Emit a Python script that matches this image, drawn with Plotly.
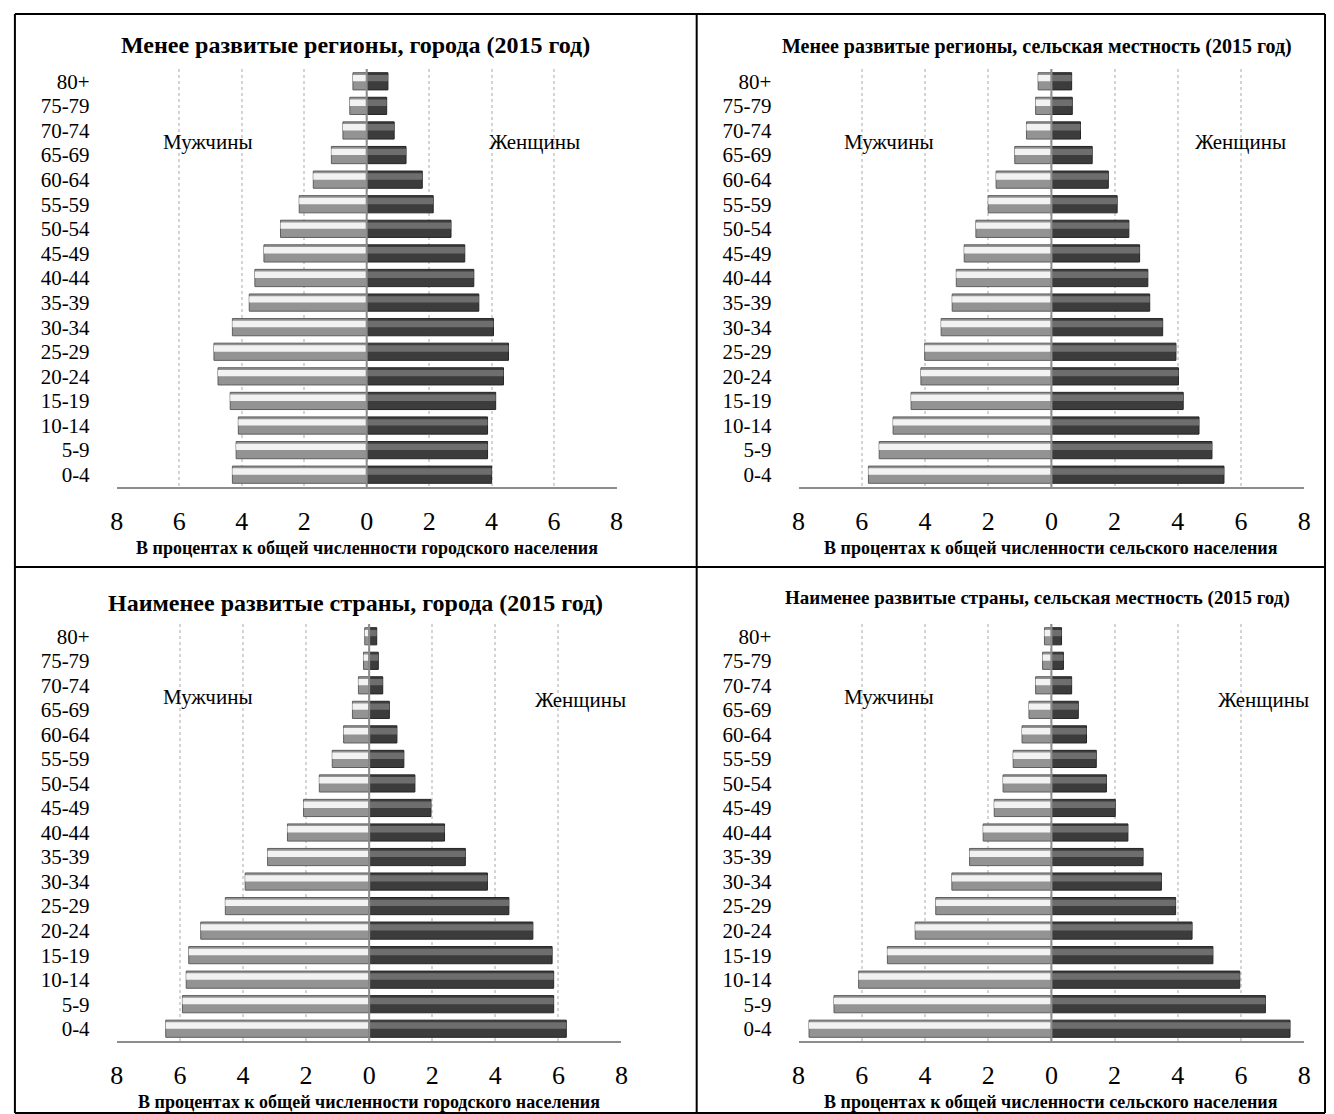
import plotly.graph_objects as go

ages = ["0-4", "5-9", "10-14", "15-19", "20-24", "25-29", "30-34", "35-39", "40-44",
        "45-49", "50-54", "55-59", "60-64", "65-69", "70-74", "75-79", "80+"]

# Менее развитые регионы, города
m1 = [4.30, 4.18, 4.11, 4.37, 4.76, 4.89, 4.30, 3.76, 3.58, 3.29, 2.76, 2.16, 1.71, 1.13, 0.76, 0.54, 0.44]
f1 = [4.00, 3.87, 3.87, 4.13, 4.38, 4.54, 4.06, 3.59, 3.43, 3.14, 2.70, 2.13, 1.78, 1.26, 0.88, 0.64, 0.68]
# Менее развитые регионы, сельская местность
m2 = [5.79, 5.45, 5.01, 4.44, 4.13, 4.01, 3.49, 3.14, 3.01, 2.76, 2.39, 2.00, 1.75, 1.16, 0.79, 0.50, 0.42]
f2 = [5.46, 5.08, 4.67, 4.17, 4.02, 3.94, 3.52, 3.11, 3.05, 2.79, 2.45, 2.08, 1.80, 1.29, 0.92, 0.66, 0.64]
# Наименее развитые страны, города
m3 = [6.45, 5.92, 5.80, 5.72, 5.34, 4.56, 3.93, 3.22, 2.59, 2.08, 1.58, 1.17, 0.81, 0.53, 0.34, 0.18, 0.14]
f3 = [6.25, 5.85, 5.85, 5.80, 5.19, 4.43, 3.75, 3.05, 2.39, 1.96, 1.45, 1.10, 0.88, 0.64, 0.43, 0.29, 0.24]
# Наименее развитые страны, сельская местность
m4 = [7.67, 6.88, 6.10, 5.19, 4.31, 3.66, 3.15, 2.59, 2.16, 1.81, 1.53, 1.21, 0.93, 0.71, 0.50, 0.28, 0.22]
f4 = [7.55, 6.77, 5.96, 5.11, 4.45, 3.93, 3.48, 2.90, 2.42, 2.02, 1.74, 1.42, 1.11, 0.85, 0.64, 0.38, 0.32]

tick_vals = [-8, -6, -4, -2, 0, 2, 4, 6, 8]
tick_text = ["8", "6", "4", "2", "0", "2", "4", "6", "8"]

titles = ["Менее развитые регионы, города (2015 год)",
          "Менее развитые регионы, сельская местность (2015 год)",
          "Наименее развитые страны, города (2015 год)",
          "Наименее развитые страны, сельская местность (2015 год)"]
xtitles = ["В процентах к общей численности городского населения",
           "В процентах к общей численности сельского населения",
           "В процентах к общей численности городского населения",
           "В процентах к общей численности сельского населения"]

W, H = 1334, 1114
SERIF = "Liberation Serif, Times New Roman, serif"

def px(x):
    return x / W

def py(y):
    return 1 - y / H

# panel geometry in pixels: (x_left, x_right, y_top, y_bottom)
panels = [(111, 616, 69, 487), (800, 1311, 69, 487),
          (111, 621, 624, 1041), (800, 1311, 624, 1041)]
data = [(m1, f1), (m2, f2), (m3, f3), (m4, f4)]
title_sizes = [24, 20, 24, 19]
title_x = [352, 1041, 352, 1041]
title_y = [45, 47, 603, 598]

fig = go.Figure()
layout = dict(width=W, height=H, margin=dict(l=0, r=0, t=0, b=0),
              plot_bgcolor="white", paper_bgcolor="white",
              barmode="overlay", showlegend=False, annotations=[], shapes=[])

for i, ((mv, fv), (xl, xr, yt, yb)) in enumerate(zip(data, panels)):
    n = "" if i == 0 else str(i + 1)
    xa, ya = "x" + n, "y" + n
    neg = [-v for v in mv]
    # male bars (light bevel)
    fig.add_trace(go.Bar(y=ages, x=neg, orientation="h", xaxis=xa, yaxis=ya,
                         width=0.7, offset=-0.35, marker=dict(color="#939393", line=dict(color="#5e5e5e", width=1))))
    fig.add_trace(go.Bar(y=ages, x=neg, orientation="h", xaxis=xa, yaxis=ya,
                         width=0.26, offset=0.0, marker=dict(color="#f2f2f2", line=dict(width=0))))
    # female bars (dark bevel)
    fig.add_trace(go.Bar(y=ages, x=fv, orientation="h", xaxis=xa, yaxis=ya,
                         width=0.7, offset=-0.35, marker=dict(color="#3c3c3c", line=dict(color="#242424", width=1))))
    fig.add_trace(go.Bar(y=ages, x=fv, orientation="h", xaxis=xa, yaxis=ya,
                         width=0.26, offset=0.0, marker=dict(color="#6e6e6e", line=dict(width=0))))

    layout["xaxis" + n] = dict(domain=[px(xl), px(xr)], range=[-8, 8], anchor=ya,
                               tickmode="array", tickvals=tick_vals, ticktext=tick_text,
                               showgrid=True, gridcolor="#d4d4d4", griddash="dot", gridwidth=2,
                               zeroline=False, showline=True, linecolor="#8c8c8c", linewidth=2,
                               ticks="outside", ticklen=10, tickcolor="rgba(0,0,0,0)",
                               tickfont=dict(family=SERIF, size=26, color="black"), fixedrange=True)
    layout["yaxis" + n] = dict(domain=[py(yb), py(yt)], anchor=xa, type="category",
                               categoryorder="array", categoryarray=ages, range=[-0.5, 16.5],
                               tickmode="array", tickvals=ages, ticktext=ages,
                               showgrid=False, zeroline=False, showline=False,
                               ticks="outside", ticklen=22, tickcolor="rgba(0,0,0,0)",
                               tickfont=dict(family=SERIF, size=21, color="black"), fixedrange=True)
    # zero line
    layout["shapes"].append(dict(type="line", xref=xa, yref=ya + " domain", x0=0, x1=0, y0=0, y1=1,
                                 line=dict(color="#8c8c8c", width=2), layer="above"))
    cx = (xl + xr) / 2
    layout["annotations"].append(dict(text="<b>" + titles[i] + "</b>", xref="paper", yref="paper",
                                      x=px(title_x[i]), y=py(title_y[i]), showarrow=False,
                                      xanchor="center", yanchor="middle",
                                      font=dict(family=SERIF, size=title_sizes[i], color="black")))
    layout["annotations"].append(dict(text="<b>" + xtitles[i] + "</b>", xref="paper", yref="paper",
                                      x=px(cx), y=py(yb + 61), showarrow=False,
                                      xanchor="center", yanchor="middle",
                                      font=dict(family=SERIF, size=18, color="black")))
    mx = 203 if xl < 600 else 891
    fx = (533 if i == 0 else 580) if xl < 600 else (1247 if i == 1 else 1270)
    yoff = 142 - 69
    layout["annotations"].append(dict(text="Мужчины", xref="paper", yref="paper",
                                      x=px(mx), y=py(yt + yoff), showarrow=False,
                                      xanchor="center", yanchor="middle",
                                      font=dict(family=SERIF, size=21, color="black")))
    layout["annotations"].append(dict(text="Женщины", xref="paper", yref="paper",
                                      x=px(fx), y=py(yt + yoff + (0 if i < 2 else 3)), showarrow=False,
                                      xanchor="center", yanchor="middle",
                                      font=dict(family=SERIF, size=21, color="black")))

# panel borders
for (x0, y0, x1, y1) in [(8, 14, 1332, 14), (8, 14, 8, 1113), (1332, 14, 1332, 1113),
                         (8, 1113, 1332, 1113), (697, 14, 697, 1113), (8, 567, 1332, 567)]:
    layout["shapes"].append(dict(type="line", xref="paper", yref="paper",
                                 x0=px(x0), x1=px(x1), y0=py(y0), y1=py(y1),
                                 line=dict(color="black", width=2)))

fig.update_layout(**layout)
fig.write_html("out.html", config={"displayModeBar": False},
               post_script="document.body.style.margin='0';document.body.style.overflow='hidden';")
